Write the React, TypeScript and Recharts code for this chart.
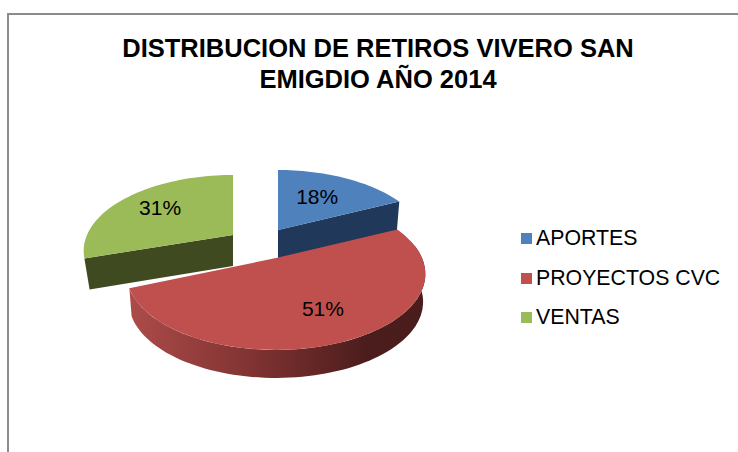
import { Legend, Pie, PieChart } from "recharts";

const categories = ["APORTES", "PROYECTOS CVC", "VENTAS"];
const values = [18, 51, 31];
const colors = ["#4f81bd", "#c0504d", "#9bbb59"];
const sideColors = ["#20385a", "#4a1c1c", "#404a20"];

// exploded offset, wall height and label distance of each slice
const offsets = [
  [2, -28],
  [0, 0],
  [-43, -23],
];
const depths = [30, 28, 31];
const baseShrink = [0.98, 0.985, 0.965];
const labelRadius = [0.55, 0.7, 0.65];
// small perspective correction of the rim ends, in degrees
const rimTweak = [
  [0, 0],
  [0, -1],
  [4, 0],
];

const rows = categories.map((name, i) => ({ name, value: values[i], fill: colors[i] }));

// the pie is tilted, so the back of the disc looks flatter than the front
const TILT = 0.21;
const RY = 72.6;

function project(cx: number, cy: number, r: number, deg: number, f = 1) {
  const a = (deg * Math.PI) / 180;
  const u = f * Math.sin(a);
  const v = f * Math.cos(a);
  const d = 1 + TILT * v;
  return [cx + (r * u) / d, cy - (RY * v) / d];
}

function toPath(points: number[][]) {
  return "M" + points.map((p) => p[0].toFixed(1) + "," + p[1].toFixed(1)).join("L") + "Z";
}

function arc(cx: number, cy: number, r: number, from: number, to: number) {
  const pts = [];
  const n = Math.max(2, Math.ceil(Math.abs(to - from) / 2));
  for (let i = 0; i <= n; i++) pts.push(project(cx, cy, r, from + ((to - from) * i) / n));
  return pts;
}

function Slice3D(props: any) {
  const i = categories.indexOf(props.name);
  const cx = props.cx + offsets[i][0];
  const cy = props.cy + offsets[i][1];
  const r = props.outerRadius;
  const from = 90 - props.startAngle + rimTweak[i][0];
  const to = 90 - props.endAngle + rimTweak[i][1];
  const depth = depths[i];
  const base = (p: number[]) => [cx + (p[0] - cx) * baseShrink[i], p[1] + depth];

  const apex = [cx, cy];
  const cuts = [];
  if (to < 90) {
    const p = project(cx, cy, r, to);
    cuts.push([apex, p, base(p), base(apex)]);
  }
  if (from > 180) {
    const p = project(cx, cy, r, from);
    cuts.push([apex, p, base(p), base(apex)]);
  }

  const wallFrom = Math.max(from, 80);
  const wallTo = Math.min(to, 280);
  const hasWall = wallTo - wallFrom > 60;
  const rim = hasWall ? arc(cx, cy, r, wallFrom, wallTo) : [];

  return (
    <g>
      <defs>
        <linearGradient id="wallShade" gradientUnits="userSpaceOnUse" x1="127" y1="0" x2="425" y2="0">
          <stop offset="0" stopColor="#ad4c4a" />
          <stop offset="0.45" stopColor="#7c3130" />
          <stop offset="0.8" stopColor="#4c1d1d" />
          <stop offset="1" stopColor="#4a1c1c" />
        </linearGradient>
      </defs>
      {cuts.map((c, k) => (
        <path key={k} d={toPath(c)} fill={sideColors[i]} />
      ))}
      {hasWall && <path d={toPath([...rim, ...rim.map(base).reverse()])} fill="url(#wallShade)" />}
      <path d={toPath([apex, ...arc(cx, cy, r, from, to)])} fill={colors[i]} />
    </g>
  );
}

function SliceLabel(props: any) {
  const i = categories.indexOf(props.name);
  const mid = 90 - props.midAngle;
  const p = project(props.cx + offsets[i][0], props.cy + offsets[i][1], props.outerRadius, mid, labelRadius[i]);
  return (
    <text x={p[0]} y={p[1] - 3} textAnchor="middle" dominantBaseline="central" fontSize={21} fill="#000">
      {values[i]}%
    </text>
  );
}

function LegendList() {
  return (
    <div>
      {categories.map((name, i) => (
        <div key={name} style={{ display: "flex", alignItems: "center", height: 39.5 }}>
          <span style={{ width: 11, height: 11, background: colors[i], marginRight: 4 }} />
          <span style={{ fontSize: 21.3, color: "#000", whiteSpace: "nowrap" }}>{name}</span>
        </div>
      ))}
    </div>
  );
}

export default function App() {
  return (
    <div
      style={{
        position: "absolute",
        left: 0,
        top: 0,
        width: 738,
        height: 452,
        overflow: "hidden",
        background: "#fff",
        fontFamily: "'Liberation Sans', Arial, sans-serif",
      }}
    >
      <div style={{ position: "absolute", left: 7, top: 13, width: 740, height: 450, borderLeft: "2px solid #8c8c8c", borderTop: "2px solid #8c8c8c" }} />
      <div
        style={{
          position: "absolute",
          left: 78,
          top: 33,
          width: 600,
          textAlign: "center",
          fontWeight: "bold",
          fontSize: 25.5,
          lineHeight: "31px",
          color: "#000",
        }}
      >
        DISTRIBUCION DE RETIROS VIVERO SAN
        <br />
        EMIGDIO AÑO 2014
      </div>
      <PieChart width={738} height={452} margin={{ top: 0, right: 0, bottom: 0, left: 0 }} style={{ position: "absolute", left: 0, top: 0 }}>
        <Pie
          data={rows}
          dataKey="value"
          nameKey="name"
          cx={276}
          cy={258}
          outerRadius={146}
          startAngle={90}
          endAngle={-270}
          stroke="none"
          isAnimationActive={false}
          shape={Slice3D}
          label={SliceLabel}
          labelLine={false}
        />
        <Legend
          content={LegendList}
          layout="vertical"
          wrapperStyle={{ position: "absolute", left: 521, top: 219, width: 210, height: 120 }}
        />
      </PieChart>
    </div>
  );
}
